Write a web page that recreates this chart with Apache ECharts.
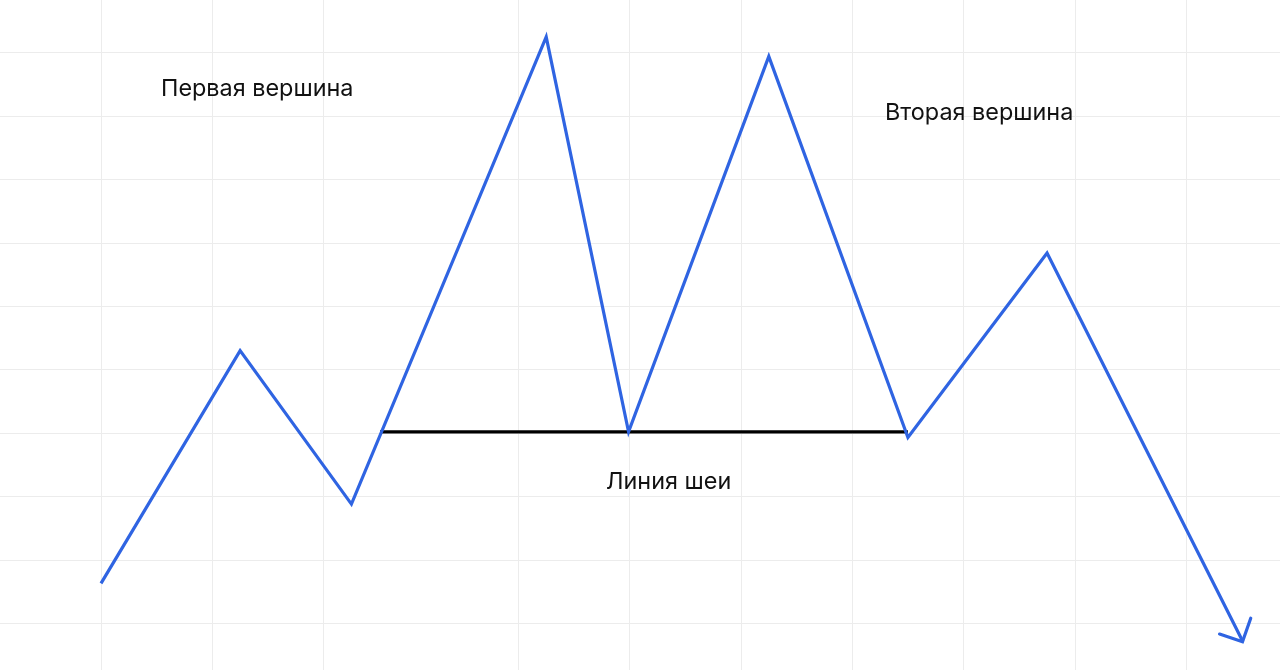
<!DOCTYPE html>
<html>
<head>
<meta charset="utf-8">
<script src="https://cdn.jsdelivr.net/npm/echarts@6/dist/echarts.min.js"></script>
<style>
html,body{margin:0;padding:0;background:#fff;}
#chart{width:1280px;height:670px;}
</style>
</head>
<body>
<div id="chart"></div>
<script>
// Price path (x in grid cells, y in grid cells)
var priceX = [0, 1.25, 2.25, 4.0, 4.74, 6.0, 7.25, 8.5, 10.26];
var priceY = [0.63, 4.30, 1.88, 9.25, 3.02, 8.94, 2.93, 5.84, -0.29];
// Neckline
var neckX = [2.507, 7.25];
var neckY = [3.02, 3.02];
// Arrowhead at the end of the path
var arrowX = [10.05, 10.256, 10.33];
var arrowY = [-0.17, -0.29, 0.08];
// Grid lines
var vGridX = [0, 1, 2, 3.75, 4.75, 5.75, 6.75, 7.75, 8.75, 9.75];
var hGridY = [0, 1, 2, 3, 4, 5, 6, 7, 8, 9];
// Text labels
var labelTexts = ['Первая вершина', 'Вторая вершина', 'Линия шеи'];

function zip(xs, ys) { return xs.map(function (x, i) { return [x, ys[i]]; }); }

var chart = echarts.init(document.getElementById('chart'), null, {renderer: 'canvas'});
var BLUE = '#2F64E2';
var GRID = '#ececec';
var FONT = 'Inter, "Noto Sans", sans-serif';

var gridLines = vGridX.map(function (x) { return {xAxis: x}; })
  .concat(hGridY.map(function (y) { return {yAxis: y}; }));

chart.setOption({
  animation: false,
  backgroundColor: '#ffffff',
  grid: {left: 0, right: 0, top: 0, bottom: 0, containLabel: false},
  xAxis: {
    type: 'value', min: -0.9075, max: 10.593,
    axisLine: {show: false}, axisTick: {show: false}, axisLabel: {show: false},
    splitLine: {show: false}
  },
  yAxis: {
    type: 'value', min: -0.7366, max: 9.831,
    axisLine: {show: false}, axisTick: {show: false}, axisLabel: {show: false},
    splitLine: {show: false}
  },
  series: [
    {
      type: 'line', data: [], silent: true, z: 0, zlevel: 0,
      markLine: {
        silent: true, symbol: 'none', label: {show: false}, z: 0,
        lineStyle: {color: GRID, width: 1, type: 'solid'},
        data: gridLines
      }
    },
    {
      type: 'line', data: zip(neckX, neckY), symbol: 'none', silent: true,
      lineStyle: {color: '#000000', width: 3.2}, z: 6
    },
    {
      type: 'line', data: zip(priceX, priceY), symbol: 'none', silent: true,
      lineStyle: {color: BLUE, width: 3.2, join: 'miter', miterLimit: 4}, z: 7
    },
    {
      type: 'line', data: zip(arrowX, arrowY), symbol: 'none', silent: true,
      lineStyle: {color: BLUE, width: 3.2, cap: 'round', join: 'miter'}, z: 7
    }
  ],
  graphic: [
    {type: 'text', x: 161, y: 89, z: 10, style: {text: labelTexts[0], fontSize: 23.4, fontFamily: FONT, fill: '#111111', verticalAlign: 'middle'}},
    {type: 'text', x: 885, y: 113, z: 10, style: {text: labelTexts[1], fontSize: 23.4, fontFamily: FONT, fill: '#111111', verticalAlign: 'middle'}},
    {type: 'text', x: 606, y: 482, z: 10, style: {text: labelTexts[2], fontSize: 23.4, fontFamily: FONT, fill: '#111111', verticalAlign: 'middle'}}
  ]
});
</script>
</body>
</html>
